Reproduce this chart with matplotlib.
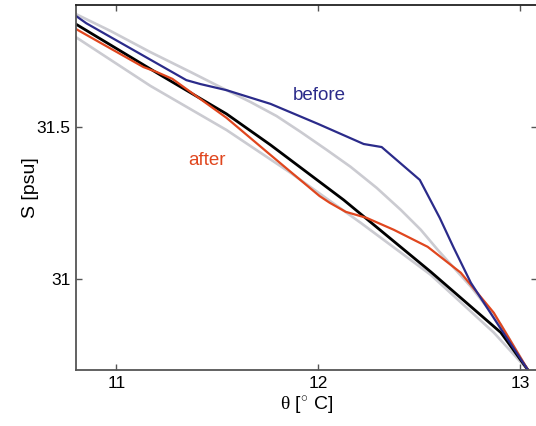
import matplotlib
matplotlib.use("Agg")
import matplotlib.pyplot as plt

plt.rcParams['font.family'] = ['Liberation Sans', 'DejaVu Sans']
plt.rcParams['mathtext.fontset'] = 'custom'
plt.rcParams['mathtext.rm'] = 'Liberation Serif'
plt.rcParams['mathtext.it'] = 'Liberation Serif:italic'

# theta [deg C] vs S [psu]
upper_theta = [10.80, 10.970, 11.169, 11.367, 11.546, 11.665, 11.794, 11.913, 12.042,
               12.161, 12.290, 12.409, 12.509, 12.593, 12.757, 12.906, 13.040]
upper_s = [31.870, 31.815, 31.745, 31.680, 31.620, 31.581, 31.535, 31.483, 31.424,
           31.368, 31.299, 31.227, 31.161, 31.095, 30.974, 30.849, 30.70]

lower_theta = [10.80, 11.169, 11.546, 11.864, 12.211, 12.558, 12.871, 13.040]
lower_s = [31.794, 31.634, 31.489, 31.348, 31.184, 31.013, 30.823, 30.70]

mean_theta = [10.80, 11.218, 11.546, 11.764, 12.127, 12.211, 12.558, 12.906, 13.040]
mean_s = [31.837, 31.670, 31.542, 31.440, 31.259, 31.213, 31.023, 30.823, 30.70]

before_theta = [10.80, 10.851, 11.347, 11.417, 11.546, 11.764, 12.0, 12.226, 12.315,
                12.504, 12.603, 12.672, 12.757, 12.906, 13.040]
before_s = [31.864, 31.840, 31.653, 31.640, 31.620, 31.575, 31.509, 31.443, 31.433,
            31.325, 31.200, 31.102, 30.987, 30.835, 30.70]

after_theta = [10.80, 11.134, 11.199, 11.278, 11.546, 11.764, 12.007, 12.057, 12.137,
               12.241, 12.375, 12.543, 12.707, 12.871, 13.040]
after_s = [31.821, 31.696, 31.680, 31.657, 31.529, 31.407, 31.272, 31.250, 31.220,
           31.200, 31.161, 31.105, 31.020, 30.888, 30.70]

xticks = [11, 12, 13]
yticks = [31, 31.5]

fig = plt.figure(figsize=(5.36, 4.26), dpi=100)
ax = fig.add_axes([76 / 536, 56 / 426, 461 / 536, 365 / 426])

gray = "#cbcbd1"
ax.plot(upper_theta, upper_s, color=gray, lw=1.9)
ax.plot(lower_theta, lower_s, color=gray, lw=1.9)
ax.plot(mean_theta, mean_s, color="black", lw=2.0)
ax.plot(after_theta, after_s, color="#e0461e", lw=1.6)
ax.plot(before_theta, before_s, color="#2b2b8a", lw=1.6)

ax.text(12.007, 31.604, "before", color="#2b2b8a", fontsize=13.5, ha="center", va="center")
ax.text(11.447, 31.39, "after", color="#e0461e", fontsize=13.5, ha="center", va="center")

ax.set_xlim(10.80, 13.085)
ax.set_ylim(30.70, 31.90)
ax.set_xticks(xticks)
ax.set_xticklabels([str(t) for t in xticks])
ax.set_yticks(yticks)
ax.set_yticklabels([str(t) for t in yticks])
ax.tick_params(direction="in", length=4, width=1, colors="#555555", labelcolor="black",
               labelsize=12.5, top=True, right=True, pad=4)
for sp in ax.spines.values():
    sp.set_color("#555555")
    sp.set_linewidth(1.3)
ax.spines["top"].set_color("#222222")

ax.set_xlabel(r"$\mathrm{θ}$ [$^{\circ}$ C]", fontsize=14, labelpad=3)
ax.set_ylabel("S [psu]", fontsize=14, labelpad=-2)

fig.savefig("out.png", dpi=100)
